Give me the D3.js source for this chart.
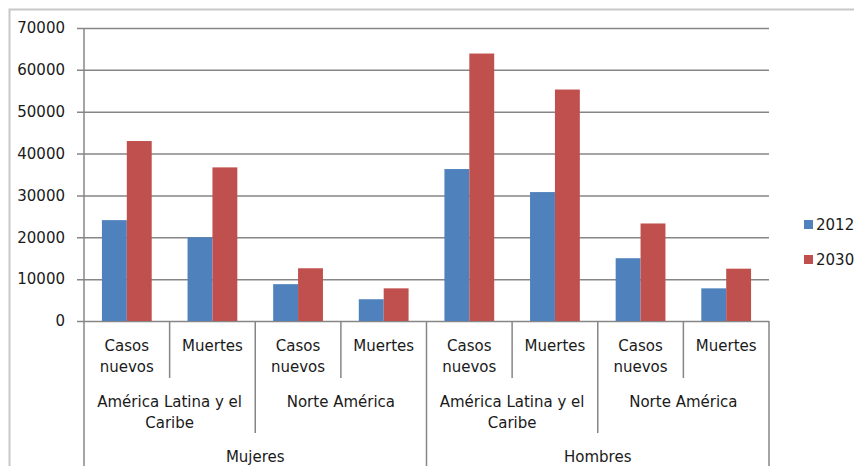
<!DOCTYPE html>
<html>
<head>
<meta charset="utf-8">
<script src="https://cdn.jsdelivr.net/npm/d3@7"></script>
<style>
  body { margin: 0; background: #fff; }
  text { font-family: "DejaVu Sans", sans-serif; font-size: 15px; fill: #1a1a1a; }
</style>
</head>
<body>
<svg width="854" height="466"></svg>
<script>
// data
var sexes = ["Mujeres", "Hombres"];
var regions = ["América Latina y el\nCaribe", "Norte América"];
var measures = ["Casos\nnuevos", "Muertes"];
var series = ["2012", "2030"];
var v2012 = [24100, 20000, 8800, 5200, 36300, 30800, 15000, 7800];
var v2030 = [43000, 36700, 12600, 7800, 63900, 55300, 23300, 12500];
var yTicks = [0, 10000, 20000, 30000, 40000, 50000, 60000, 70000];
var colors = ["#4f81bd", "#c0504d"];

var svg = d3.select("svg");
var plotLeft = 84, plotRight = 769, plotTop = 28, plotBottom = 321;
var gridColor = "#868686";

// outer chart frame
svg.append("path")
  .attr("d", "M9.5,466 V9.5 H854")
  .attr("fill", "none")
  .attr("stroke", "#c8c8c8")
  .attr("stroke-width", 2);

var cats = d3.range(v2012.length);
var x0 = d3.scaleBand().domain(cats).range([plotLeft, plotRight]);
var x1 = d3.scaleBand().domain(series).range([0, x0.bandwidth()]).paddingOuter(0.72);
var y = d3.scaleLinear().domain([0, 70000]).range([plotBottom, plotTop]);

// gridlines + tick labels
var yAxis = svg.append("g")
  .attr("transform", "translate(77,0)")
  .call(d3.axisLeft(y).tickValues(yTicks).tickSizeInner(-(plotRight - 77)).tickSizeOuter(0).tickPadding(12).tickFormat(d3.format("d")));
yAxis.select(".domain").remove();
yAxis.selectAll(".tick line").attr("stroke", gridColor).attr("stroke-width", 1.5);
yAxis.selectAll(".tick text").attr("fill", "#1a1a1a");
yAxis.attr("font-family", null).attr("font-size", null);

// bars
var rows = cats.map(function(i) { return [v2012[i], v2030[i]]; });
var grp = svg.append("g").selectAll("g")
  .data(rows)
  .enter().append("g")
  .attr("transform", function(d, i) { return "translate(" + x0(i) + ",0)"; });
grp.selectAll("rect")
  .data(function(d) { return d.map(function(v, j) { return { s: series[j], v: v, j: j }; }); })
  .enter().append("rect")
  .attr("x", function(d) { return x1(d.s); })
  .attr("width", x1.bandwidth())
  .attr("y", function(d) { return y(d.v); })
  .attr("height", function(d) { return y(0) - y(d.v); })
  .attr("fill", function(d) { return colors[d.j]; });

// y axis line
svg.append("line")
  .attr("x1", plotLeft).attr("x2", plotLeft).attr("y1", plotTop).attr("y2", plotBottom)
  .attr("stroke", gridColor).attr("stroke-width", 1.5);

// category separators (3 levels)
var sep = svg.append("g").attr("stroke", gridColor).attr("stroke-width", 1.5);
d3.range(9).forEach(function(k) {
  var xx = k < 8 ? x0(k) : plotRight;
  var y2 = k % 4 === 0 ? 466 : (k % 2 === 0 ? 433 : 378);
  sep.append("line").attr("x1", xx).attr("x2", xx).attr("y1", plotBottom).attr("y2", y2);
});

function multiLabel(cx, y0, label) {
  var t = svg.append("text").attr("text-anchor", "middle");
  label.split("\n").forEach(function(line, i) {
    t.append("tspan").attr("x", cx).attr("y", y0 + i * 21).text(line);
  });
}

// level 1: measures
cats.forEach(function(i) {
  multiLabel(x0(i) + x0.bandwidth() / 2, 351, measures[i % 2]);
});
// level 2: regions
d3.range(4).forEach(function(k) {
  multiLabel(x0(k * 2) + x0.bandwidth(), 407, regions[k % 2]);
});
// level 3: sexes
sexes.forEach(function(s, k) {
  multiLabel(x0(k * 4) + x0.bandwidth() * 2, 462, s);
});

// legend
var leg = svg.append("g").selectAll("g")
  .data(series)
  .enter().append("g")
  .attr("transform", function(d, i) { return "translate(804," + (220 + i * 35) + ")"; });
leg.append("rect").attr("width", 9).attr("height", 9)
  .attr("fill", function(d, i) { return colors[i]; });
leg.append("text").attr("x", 12).attr("y", 10).text(function(d) { return d; });
</script>
</body>
</html>
